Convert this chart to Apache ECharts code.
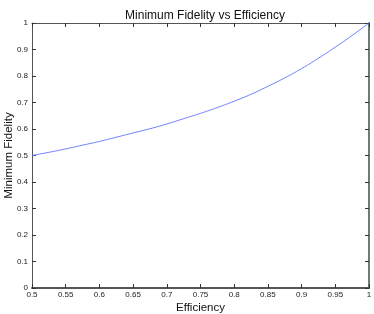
<!DOCTYPE html>
<html><head><meta charset="utf-8">
<script src="https://cdn.jsdelivr.net/npm/echarts@6/dist/echarts.min.js"></script>
<style>html,body{margin:0;padding:0;background:#fff}#c{width:374px;height:314px}</style>
</head><body><div id="c"></div>
<script>
const efficiency = [0.5,0.525,0.55,0.575,0.6,0.625,0.65,0.675,0.7,0.725,0.75,0.775,0.8,0.825,0.85,0.875,0.9,0.925,0.95,0.975,1.0];
const minFidelity = [0.500,0.512,0.525,0.539,0.553,0.569,0.585,0.601,0.619,0.639,0.659,0.681,0.705,0.731,0.761,0.793,0.828,0.867,0.909,0.953,1.000];
const titleText = 'Minimum Fidelity vs Efficiency';
const xName = 'Efficiency';
const yName = 'Minimum Fidelity';
const FONT = 'Liberation Sans, Arial, Helvetica, sans-serif';
const fmt = v => String(+(+v).toFixed(2));
const chart = echarts.init(document.getElementById('c'), null, {renderer:'canvas'});
const tickStyle = {show:true, inside:true, length:4, lineStyle:{color:'#333', width:1}};
chart.setOption({
  animation:false,
  backgroundColor:'#fff',
  title:{text:titleText, left:200, textAlign:'center', top:5, textStyle:{fontFamily:FONT, fontSize:12, fontWeight:'normal', color:'#111'}},
  grid:{left:32, right:5, top:23, bottom:26, containLabel:false, outerBoundsMode:'none'},
  xAxis:[{
    type:'value', min:0.5, max:1, interval:0.05, position:'bottom',
    name:xName, nameLocation:'middle', nameGap:14, nameMoveOverlap:false,
    nameTextStyle:{fontFamily:FONT, fontSize:11.5, color:'#111'},
    axisLine:{show:true, onZero:false, lineStyle:{color:'#555', width:2}},
    axisTick:tickStyle,
    axisLabel:{fontFamily:FONT, fontSize:8, color:'#222', margin:3, formatter:fmt},
    splitLine:{show:false}
  },{
    type:'value', min:0.5, max:1, interval:0.05, position:'top',
    axisLine:{show:true, onZero:false, lineStyle:{color:'#555', width:1}},
    axisTick:tickStyle, axisLabel:{show:false}, splitLine:{show:false}
  }],
  yAxis:[{
    type:'value', min:0, max:1, interval:0.1, position:'left',
    name:yName, nameLocation:'middle', nameGap:17, nameRotate:90, nameMoveOverlap:false,
    nameTextStyle:{fontFamily:FONT, fontSize:11.5, color:'#111'},
    axisLine:{show:true, onZero:false, lineStyle:{color:'#555', width:1}},
    axisTick:tickStyle,
    axisLabel:{fontFamily:FONT, fontSize:8, color:'#222', margin:4, formatter:fmt},
    splitLine:{show:false}
  },{
    type:'value', min:0, max:1, interval:0.1, position:'right',
    axisLine:{show:true, onZero:false, lineStyle:{color:'#777', width:2}},
    axisTick:tickStyle, axisLabel:{show:false}, splitLine:{show:false}
  }],
  series:[{
    type:'line', xAxisIndex:0, yAxisIndex:0, smooth:true, showSymbol:false,
    lineStyle:{color:'#6f7fff', width:1},
    data:efficiency.map((x,i)=>[x, minFidelity[i]])
  }]
});
</script></body></html>
